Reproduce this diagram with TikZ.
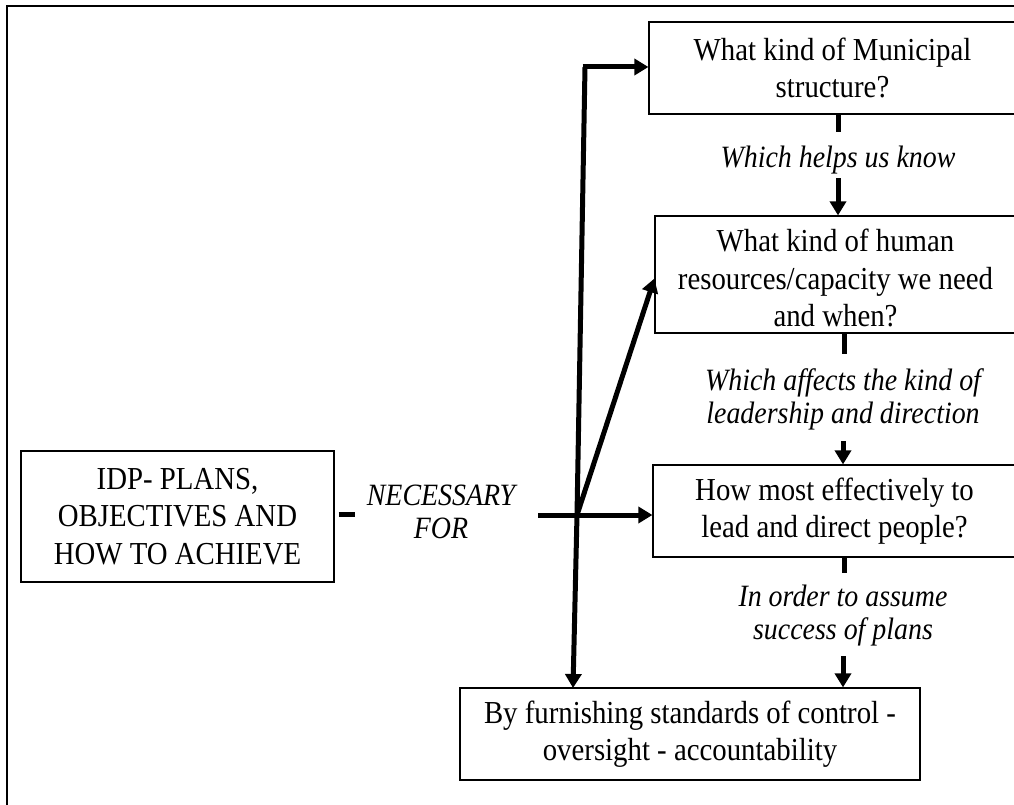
\documentclass[tikz,border=0pt]{standalone}
\usepackage{fontspec}
\setmainfont{Liberation Serif}[FakeStretch=0.9]
\usetikzlibrary{arrows.meta,calc}
\begin{document}
\begin{tikzpicture}[x=1pt,y=-1pt,
  box/.style={draw,line width=1.2pt,rectangle,align=center,inner sep=0pt,
    font=\fontsize{32}{37.5}\selectfont},
  lbl/.style={align=center,inner sep=0pt,font=\fontsize{31}{33}\selectfont\itshape},
  link/.style={line width=5pt},
  arr/.style={line width=5pt,-{Triangle[length=14pt,width=16pt]}}]
\clip (0,0) rectangle (1014,805);
% outer frame
\draw[line width=2.5pt] (7,820) -- (7,6) -- (1030,6);
% boxes
\node[box,minimum width=367pt,minimum height=92pt] (m1) at (832.5,68) {What kind of Municipal\\structure?};
\node[box,minimum width=361pt,minimum height=117pt] (m2) at (835.5,274.5) {\rule{0pt}{30pt}What kind of human\\resources/capacity we need\\and when?};
\node[box,minimum width=363pt,minimum height=92pt] (m3) at (834.5,511) {How most effectively to\\lead and direct people?};
\node[box,minimum width=460pt,minimum height=92pt] (m4) at (690,734) {By furnishing standards of control -\\oversight - accountability};
\node[box,minimum width=313pt,minimum height=131pt] (idp) at (177.5,516.5) {IDP- PLANS,\\OBJECTIVES AND\\HOW TO ACHIEVE};
% labels
\node[lbl] (l1) at (838,160) {Which helps us know};
\node[lbl] (l2) at (843,399) {Which affects the kind of\\leadership and direction};
\node[lbl] (l3) at (843,616) {In order to assume\\success of plans};
\node[lbl] (nec) at (441,512) {NECESSARY\\FOR};
% junction points
\coordinate (hub) at (577,515);
\coordinate (necR) at (538,515);
\coordinate (top) at (585,67);
\coordinate (foot) at (573,688);
% columns of the chain on the right
\coordinate (c1) at (838,0);
\coordinate (c2) at (844,0);
\coordinate (c3) at (843,0);
% dash after the IDP box
\draw[link] ($(idp.east)+(4,-2)$) coordinate (d0) -- ++(16,0) coordinate (d1);
% fan-out from the hub
\draw[arr] (necR) -- (hub -| m3.west);
\draw[arr] (hub) -- ($(m2.west)+(0,4)$);
\draw[link] (top) -- (hub);
\draw[arr] (hub) -- (foot);
\draw[arr] ($(top)+(-2.5,0)$) -- (m1.west |- top);
% chain on the right
\draw[link] (m1.south -| c1) -- ++(0,17);
\draw[arr] ($(m2.north -| c1)+(0,-37)$) -- (m2.north -| c1);
\draw[link] (m2.south -| c2) -- ++(0,20);
\draw[arr] ($(m3.north -| c3)+(0,-23)$) -- (m3.north -| c3);
\draw[link] (m3.south -| c2) -- ++(0,15);
\draw[arr] ($(m4.north -| c3)+(0,-31)$) -- (m4.north -| c3);
\end{tikzpicture}
\end{document}
